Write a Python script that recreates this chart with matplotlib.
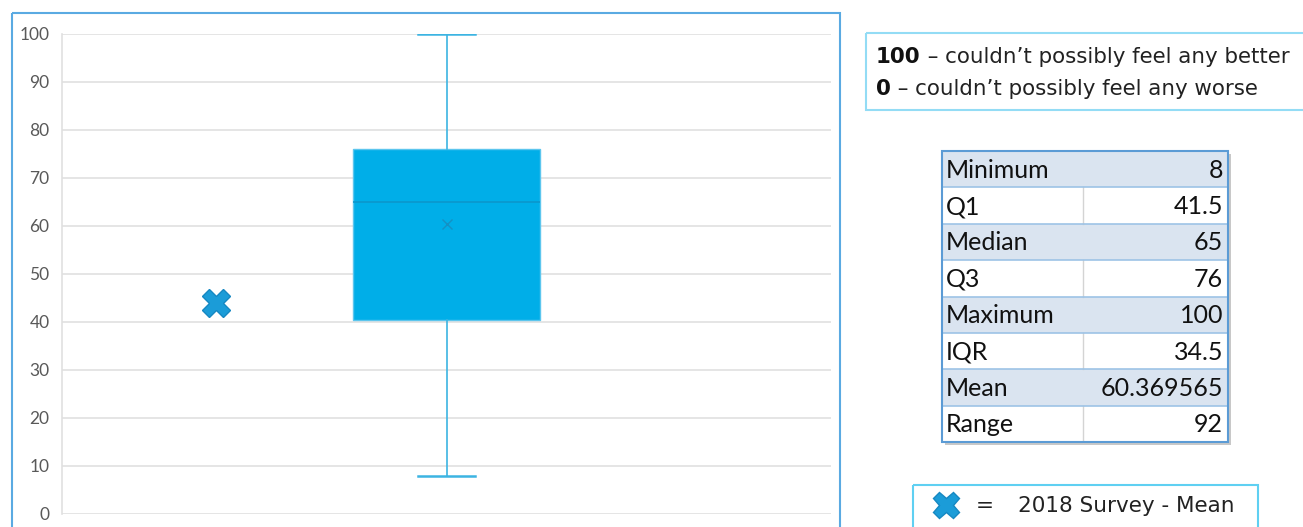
import matplotlib.pyplot as plt
from matplotlib.patches import Rectangle

# survey data (as drawn in the chart)
box_stats = dict(whislo=8, q1=40.4, med=65, q3=76, whishi=100, mean=60.37)
mean_2018 = 44.0

# summary table
table_labels = ["Minimum", "Q1", "Median", "Q3", "Maximum", "IQR", "Mean", "Range"]
table_values = ["8", "41.5", "65", "76", "100", "34.5", "60.369565", "92"]

yticks = list(range(0, 101, 10))

BOX = "#00aee8"
WHISK = "#3cb4e2"
XMARK = "#1b9cd8"
FONT = "Lato"
NOTE_FONT = "DejaVu Sans"

W, H = 1303, 527
fig = plt.figure(figsize=(W / 100, H / 100), dpi=100)


def px(x0, y0, x1, y1):
    # pixel box (top-left origin) -> figure fraction rect
    return [x0 / W, 1 - y1 / H, (x1 - x0) / W, (y1 - y0) / H]


# main chart
ax = fig.add_axes(px(62, 34, 831, 514))
ax.bxp([box_stats], positions=[0.5], widths=0.243, capwidths=[0.073],
       patch_artist=True, showmeans=True, showfliers=False,
       boxprops=dict(facecolor=BOX, edgecolor="#5cc6ee", linewidth=1),
       medianprops=dict(color="#0b96cc", linewidth=1.2),
       whiskerprops=dict(color=WHISK, linewidth=1.2),
       capprops=dict(color=WHISK, linewidth=1.8),
       meanprops=dict(marker="x", markersize=7, markeredgecolor="#1591c4",
                      markeredgewidth=1))
ax.plot([0.2], [mean_2018], marker="X", markersize=20, color=XMARK,
        markeredgecolor="#1688c2", markeredgewidth=1, linestyle="none")
ax.set_xlim(0, 1)
ax.set_ylim(0, 100)
ax.set_yticks(yticks)
ax.set_xticks([])
ax.yaxis.grid(True, color="#e0e0e0", linewidth=1.2)
ax.set_axisbelow(True)
for s in ["top", "right", "bottom"]:
    ax.spines[s].set_visible(False)
ax.spines["left"].set_color("#e0e0e0")
ax.spines["left"].set_linewidth(1.2)
ax.tick_params(axis="y", length=0, pad=9, labelsize=12.5, labelcolor="#595959")
for lab in ax.get_yticklabels():
    lab.set_fontfamily(FONT)

# overlay in pixel coordinates for frames, table and notes
ov = fig.add_axes([0, 0, 1, 1], zorder=5)
ov.set_xlim(0, W)
ov.set_ylim(H, 0)
ov.axis("off")
ov.patch.set_alpha(0)

# chart border
ov.add_patch(Rectangle((12, 13), 828, 530, fill=False, edgecolor="#5aaae2",
                       linewidth=1.5, clip_on=False))

# scale note box
ov.add_patch(Rectangle((866, 33), 450, 77, fill=False, edgecolor="#93dcf5",
                       linewidth=1.5, clip_on=False))
note = [("100", " \u2013 couldn\u2019t possibly feel any better", 57),
        ("0", " \u2013 couldn\u2019t possibly feel any worse", 89)]
for bold, rest, y in note:
    t = ov.text(876, y, bold, fontsize=15.4, fontweight="bold", family=NOTE_FONT,
                va="center", color="#111111")
    ov.annotate(rest, xycoords=t, xy=(1, 0.5), va="center", fontsize=15.4,
                family=NOTE_FONT, color="#222222")

# summary table
tx0, tx1, tmid, ty0 = 942, 1228, 1083, 151
rh = (442 - ty0) / len(table_labels)
ov.add_patch(Rectangle((tx0 + 3, ty0 + 3), tx1 - tx0, 442 - ty0,
                       facecolor="#c8c8c8", edgecolor="none", zorder=1))
for i, (lab, val) in enumerate(zip(table_labels, table_values)):
    y = ty0 + i * rh
    shaded = i % 2 == 0
    ov.add_patch(Rectangle((tx0, y), tx1 - tx0, rh,
                           facecolor="#dae4f0" if shaded else "white",
                           edgecolor="none", zorder=2))
    if not shaded:
        ov.plot([tmid, tmid], [y, y + rh], color="#d4d4d4", lw=1, zorder=3)
    ov.plot([tx0, tx1], [y, y], color="#9dc3e6", lw=1.2, zorder=3)
    ov.text(tx0 + 4, y + rh / 2 + 1, lab, fontsize=18, family=FONT,
            va="center", ha="left", color="#111111", zorder=4)
    ov.text(tx1 - 5, y + rh / 2 + 1, val, fontsize=18, family=FONT,
            va="center", ha="right", color="#111111", zorder=4)
ov.add_patch(Rectangle((tx0, ty0), tx1 - tx0, 442 - ty0, fill=False,
                       edgecolor="#5b9bd5", linewidth=1.5, zorder=5))

# legend box
ov.add_patch(Rectangle((913, 485), 345, 60, fill=False, edgecolor="#5fd0f2",
                       linewidth=1.5, clip_on=False))
ov.plot([946], [505], marker="X", markersize=19, color=XMARK,
        markeredgecolor="#1688c2", markeredgewidth=1, linestyle="none")
ov.text(985, 506, "=", fontsize=15.5, family=NOTE_FONT, va="center", ha="center",
        color="#222222")
ov.text(1018, 506, "2018 Survey - Mean", fontsize=15.5, family=NOTE_FONT,
        va="center", color="#222222")

fig.savefig("out.png", dpi=100)
